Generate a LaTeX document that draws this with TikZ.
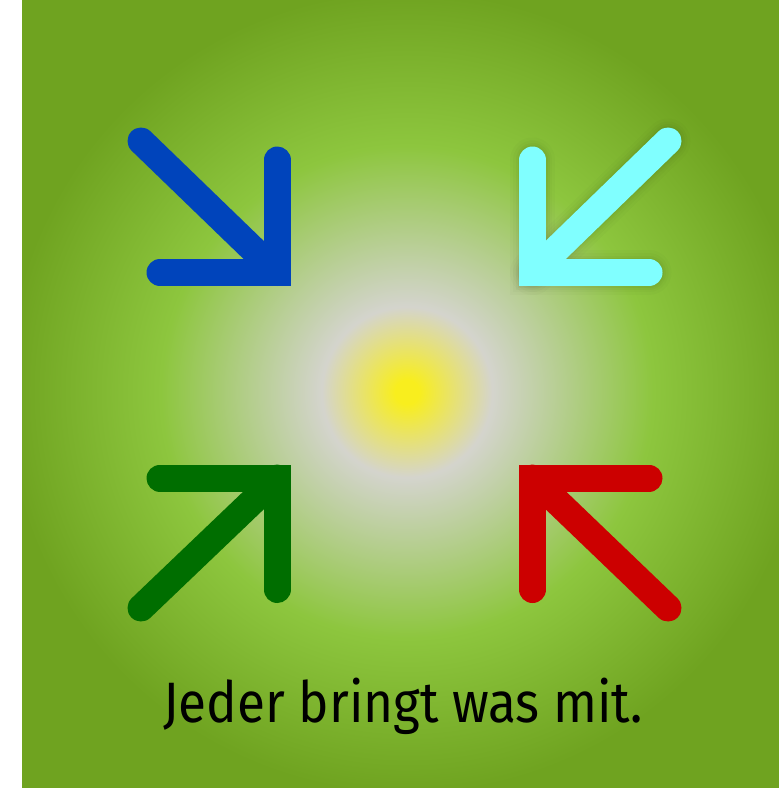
\documentclass[tikz,border=0pt]{standalone}
\usepackage{fontspec}
\setmainfont{Fira Sans}
\newfontfamily\capfont[FakeStretch=0.9]{Fira Sans}
\definecolor{cyel}{RGB}{248,238,30}
\definecolor{cgrey}{RGB}{212,212,205}
\definecolor{clgreen}{RGB}{141,198,62}
\definecolor{cdgreen}{RGB}{111,163,32}
\definecolor{ablue}{RGB}{0,68,187}
\definecolor{acyan}{RGB}{128,255,255}
\definecolor{agreen}{RGB}{0,110,0}
\definecolor{ared}{RGB}{204,0,0}
\pgfdeclareradialshading{glow}{\pgfpoint{0bp}{0bp}}{%
  color(0bp)=(cyel); color(12bp)=(cyel); color(85bp)=(cgrey);
  color(245bp)=(clgreen); color(400bp)=(cdgreen); color(560bp)=(cdgreen)}
\begin{document}
\begin{tikzpicture}[x=1pt,y=-1pt,
  arrowline/.style={line width=27pt,line cap=round,line join=miter},
  label/.style={font=\capfont\fontsize{57}{62}\selectfont,text=black,inner sep=0pt}]
\useasboundingbox (0,0) rectangle (779,788);
\fill[white] (0,0) rectangle (779,788);
\fill[cdgreen] (22,0) rectangle (779,788);
\begin{scope}
  \clip (22,0) rectangle (779,788);
  \pgftext[at={\pgfpointxy{407}{392}}]{\pgfuseshading{glow}}
\end{scope}
% blue arrow (top left)
\coordinate (b0) at (141,141);
\coordinate (bc) at (277,272.5);
\coordinate (b1) at (277,160);
\coordinate (b2) at (160,272.5);
% cyan arrow (top right)
\coordinate (c0) at (668,141);
\coordinate (cc) at (532.5,272.5);
\coordinate (c1) at (532.5,160);
\coordinate (c2) at (649,272.5);
% green arrow (bottom left)
\coordinate (g0) at (141,608);
\coordinate (gc) at (277,478);
\coordinate (g1) at (277,589.5);
\coordinate (g2) at (160,478);
% red arrow (bottom right)
\coordinate (r0) at (668,608);
\coordinate (rc) at (532.5,478);
\coordinate (r1) at (532.5,589.5);
\coordinate (r2) at (649,478);
% soft shadow of cyan arrow
\foreach \w/\o in {45/0.015,39/0.02,34/0.025,30/0.03}{
  \draw[arrowline,line width=\w pt,black,opacity=\o] (c0) -- (cc);
  \draw[arrowline,line width=\w pt,black,opacity=\o] (c1) -- (cc) -- (c2);
}
\draw[arrowline,ablue] (b0) -- (bc);
\draw[arrowline,ablue] (b1) -- (bc) -- (b2);
\draw[arrowline,acyan] (c0) -- (cc);
\draw[arrowline,acyan] (c1) -- (cc) -- (c2);
\draw[arrowline,agreen] (g0) -- (gc);
\draw[arrowline,agreen] (g1) -- (gc) -- (g2);
\draw[arrowline,ared] (r0) -- (rc);
\draw[arrowline,ared] (r1) -- (rc) -- (r2);
\node[label,anchor=base] (caption) at (403,722) {Jeder bringt was mit.};
\end{tikzpicture}
\end{document}
